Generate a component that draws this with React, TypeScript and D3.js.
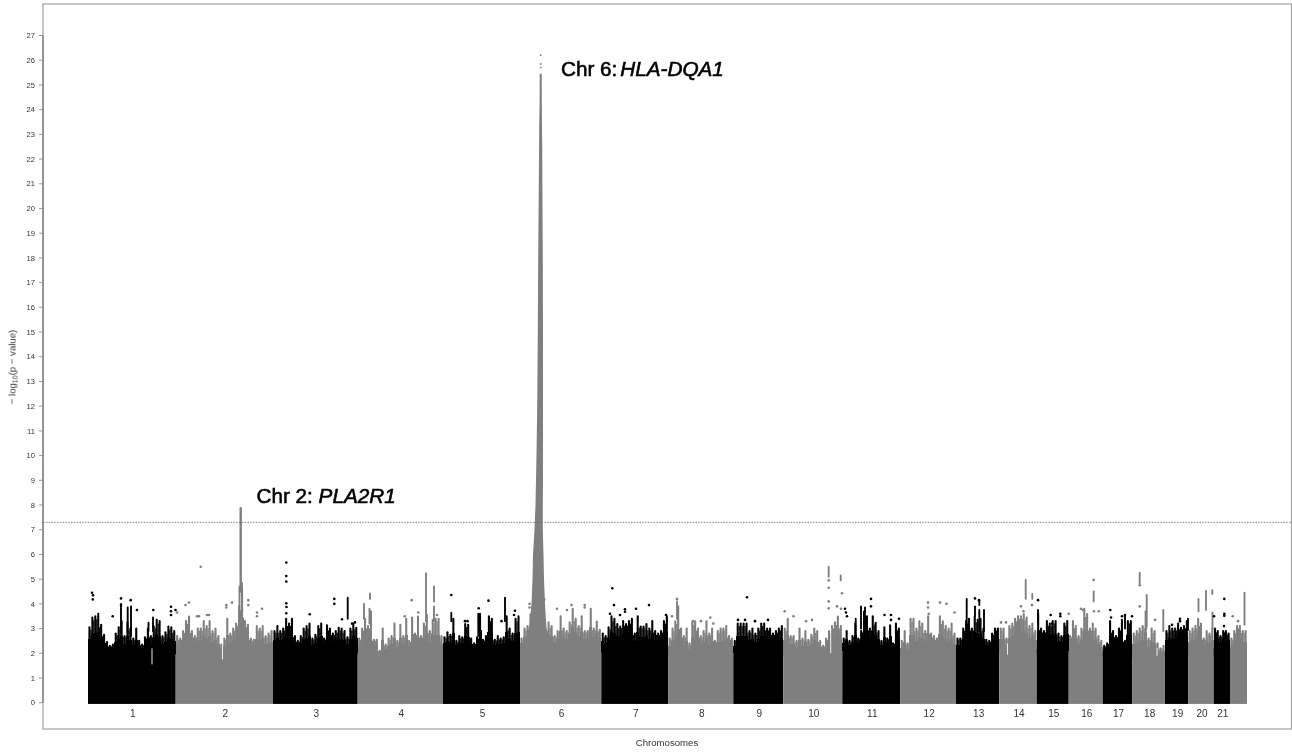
import React from "react";
import * as d3 from "d3";

// Cumulative chromosome boundaries along the genome axis (ranked-marker units)
const chrBounds = [88, 175.7, 273, 357.7, 443, 520, 601.3, 668.3, 733.3, 783.3, 842.3, 900.3, 956, 999.3, 1036.7, 1068.7, 1102.7, 1132.3, 1165, 1188.3, 1213.7, 1230, 1247];
const chrLabels = ["1","2","3","4","5","6","7","8","9","10","11","12","13","14","15","16","17","18","19","20","21",""];
const yTicks = d3.range(0, 28);

// Solid level of each chromosome, -log10(p)
const chrFloor = [2.0,1.95,2.05,1.95,2.1,2.2,2.1,1.9,2.05,1.95,2.15,1.9,2.05,2.05,2.15,1.95,2.05,1.85,2.05,1.95,2.2,1.95];

// Upper envelope of each chromosome, evenly sampled, -log10(p)
const chr1 = [3.05,3.45,3.5,3.6,3.15,2.75,2.45,2.3,2.35,2.8,3.05,3.3,2.7,3.25,3.0,2.6,3.0,2.5,2.35,2.65,3.0,2.7,3.1,3.35,3.3,2.7,2.85,3.1,3.05,2.9];
const chr2 = [2.7,2.6,2.9,3.3,3.5,2.9,2.7,3.0,3.0,3.3,3.1,3.3,2.9,3.0,2.7,2.35,2.6,3.4,2.8,3.0,3.2,3.9,4.6,3.3,3.15,2.6,2.55,3.1,3.0,3.1,2.7,2.8,2.9];
const chr3 = [2.9,3.1,2.9,3.0,3.4,3.2,3.4,2.7,2.5,2.7,3.0,3.1,3.2,2.6,2.75,3.1,3.2,2.6,3.15,3.0,2.8,2.9,3.05,3.0,2.9,2.65,3.0,3.2,3.05];
const chr4 = [2.6,3.0,3.4,3.1,3.7,2.55,2.55,2.1,3.0,2.35,2.6,2.7,3.2,2.5,3.15,2.7,3.4,2.5,3.45,2.8,3.5,2.7,3.2,3.55,2.9,3.35,3.4,3.4,2.7];
const chr5 = [2.65,2.85,2.75,3.4,2.5,2.7,2.65,3.2,3.15,2.6,2.4,2.65,3.6,2.55,2.7,3.5,3.4,2.55,2.7,2.6,2.65,3.5,3.0,2.8,3.4,3.5];
const chr6 = [2.6,3.0,3.1,3.6,3.4,3.6,3.3,3.2,3.0,3.25,3.1,2.7,2.9,3.5,3.0,2.9,3.25,3.8,3.4,3.1,3.5,2.9,2.9,3.8,3.0,3.3,2.95];
const chr7 = [2.8,2.7,3.05,3.5,3.4,3.2,3.1,3.3,3.2,3.3,3.4,2.8,3.5,3.1,3.1,3.2,3.0,3.3,2.9,2.8,2.9,3.3,3.5];
const chr8 = [2.6,3.0,3.3,3.9,3.0,2.7,3.0,2.4,3.25,3.3,3.0,2.7,2.9,3.3,2.8,3.0,2.5,2.9,3.0,3.0,3.1,2.7,2.6];
const chr9 = [2.5,3.2,3.2,3.2,3.2,2.9,3.0,2.8,3.0,3.2,3.2,3.0,3.0,2.8,2.9,3.0,3.1];
const chr10 = [3.0,3.4,2.7,2.7,2.5,3.0,2.6,2.9,2.55,2.75,3.0,2.9,2.5,2.3,2.6,2.9,3.1,3.25,3.5,3.1];
const chr11 = [2.6,2.9,2.5,2.7,3.2,2.6,2.9,3.7,3.5,3.0,3.5,3.25,2.9,2.5,3.05,2.6,3.15,2.4,3.2,3.0];
const chr12 = [2.5,2.9,2.4,3.4,3.4,3.0,3.3,3.2,2.9,3.5,2.8,2.7,2.6,3.5,3.3,3.1,3.0,3.2,2.8];
const chr13 = [2.6,2.6,3.0,3.3,3.4,3.0,3.5,3.35,3.4,3.0,2.55,2.5,2.8,3.0,3.0];
const chr14 = [3.0,3.0,2.6,3.1,3.2,3.4,3.5,3.5,3.6,3.45,3.1,3.2,2.9];
const chr15 = [3.6,3.0,2.9,3.3,3.2,3.3,3.3,2.8,2.7,3.2,3.3];
const chr16 = [2.7,3.3,3.1,2.7,3.0,3.8,3.6,3.0,3.2,3.0,2.7,2.5];
const chr17 = [2.3,2.4,3.3,2.9,2.7,3.0,3.35,2.5,3.3,3.3];
const chr18 = [2.8,2.9,3.0,3.1,3.7,2.6,3.0,2.9,2.4,2.2,2.3];
const chr19 = [2.9,3.1,3.0,3.0,3.2,3.05,3.1,3.3];
const chr20 = [2.9,3.0,3.1,3.4,3.2,2.6,2.9,2.8,3.0];
const chr21 = [3.0,2.9,2.7,2.9,2.9,2.8];
const chr22 = [2.6,2.9,3.1,3.1,2.9,2.9];
const chrTops = [chr1,chr2,chr3,chr4,chr5,chr6,chr7,chr8,chr9,chr10,chr11,chr12,chr13,chr14,chr15,chr16,chr17,chr18,chr19,chr20,chr21,chr22];

// Columns of stacked markers: [position, low, high]
const spikes: [number, number, number][] = [
  [121,2.8,4.0],[127.7,2.8,3.85],[131,2.7,3.9],[148.5,2.9,3.25],[153,2.9,3.45],
  [239.5,3.5,4.7],[240.7,4.5,7.87],[242,3.5,4.85],
  [347.7,3.4,4.25],
  [364,3.4,4.0],[369.5,3.2,3.8],[370,4.2,4.42],[426,3.3,5.25],[434,4.1,4.7],[434,3.3,3.9],
  [505,3.3,4.25],[451.3,3.3,3.65],[478.3,2.7,3.6],
  [677,3.4,4.1],
  [828.7,5.1,5.5],[840.7,4.95,5.15],
  [855.7,2.7,3.4],[861,3.0,3.9],[865,3.0,3.85],
  [966.7,3.1,4.2],[975,3.5,3.9],[979.3,3.95,4.15],[979.3,2.9,3.75],[984,2.9,3.75],
  [1025.7,4.2,4.97],[1032.3,4.2,4.4],
  [1038,3.2,3.75],[1093.7,4.1,4.5],[1125,3.0,3.55],
  [1139.7,4.83,5.26],[1146.7,3.07,4.36],[1163.3,2.9,3.75],
  [1188,2.95,3.4],[1198.5,3.7,4.2],[1206,3.75,4.55],[1212.3,4.4,4.55],[1212.5,3.0,3.65],[1244.5,3.15,4.45],
];

// Isolated markers: [position, -log10(p)]
const outliers: [number, number][] = [
  [92,4.45],[93,4.35],[92.8,4.18],[121,4.22],[130.7,4.15],[136.9,3.75],[112.7,3.5],[171,3.88],[171,3.7],[171,3.55],[153.3,3.75],[121,3.95],[175.5,3.75],[177,3.65],
  [200.7,5.5],[189,4.05],[185.5,3.95],[226.3,3.95],[226.3,3.85],[232,4.05],[248.3,4.15],[248.3,3.95],[262,3.8],[257,3.65],[257,3.5],[207,3.55],[209,3.55],[197,3.5],[199,3.5],
  [286.3,5.67],[286.3,5.13],[286.3,4.9],[286.3,4.02],[286.5,3.87],[286.3,3.62],[309.7,3.58],[334.3,4.2],[334.3,4.0],[342,3.38],[355,3.25],[352,3.2],
  [411.7,4.15],[404.7,3.5],[418.3,3.65],[437,3.55],
  [451.3,4.36],[488.5,4.13],[478.7,3.82],[515,3.72],[467.5,3.3],[465,3.3],[501.5,3.3],[479,3.42],[514,3.55],
  [544.3,4.17],[571.5,3.95],[529.5,4.0],[529.5,3.85],[584.7,3.95],[584.7,3.85],[567,3.75],[557,3.8],
  [612.3,4.63],[614,3.95],[625,3.78],[625,3.68],[636,3.8],[649,3.95],[666,3.55],[620,3.55],[610,3.6],
  [710.3,3.45],[713.3,3.2],[672,3.5],[677,4.2],[693,3.3],[701,3.3],
  [747,4.27],[738,3.35],[745,3.35],[755,3.3],[768,3.35],
  [784.7,3.7],[793.5,3.5],[806,3.3],[828.7,4.95],[828.7,4.65],[828.7,4.1],[828.7,3.82],[842,4.43],[837,3.9],[841,3.8],[812,3.35],
  [871,4.2],[871,3.9],[845,3.8],[846,3.65],[847,3.5],[884.5,3.55],[891,3.55],[891,3.35],[899,3.4],
  [928,4.05],[928,3.85],[928.7,3.6],[940,4.05],[946.5,4.0],[954.5,3.65],
  [975,4.22],[979,4.15],[1001,3.25],[1006,3.25],
  [1032,3.95],[1021,3.9],[1023.5,3.7],
  [1038,4.15],[1050.7,3.55],[1060.3,3.6],[1060.3,3.5],[1068.7,3.6],[1052,3.2],
  [1093.7,4.97],[1098.7,3.7],[1094,3.7],[1081,3.8],[1083,3.75],
  [1110.3,3.75],[1111,3.45],[1125,3.55],[1132,3.5],[1122,3.5],
  [1139.7,4.75],[1139.7,3.9],[1155,3.35],[1146,3.0],
  [1180,3.4],[1180,3.3],[1172,3.15],
  [1224.3,4.2],[1224.3,3.6],[1224.3,3.52],[1214,3.5],[1224,3.1],[1232.7,3.5],[1238,3.3],
];

// Thin blank streaks in the solid band: [position, low, high]
const gaps: [number, number, number][] = [
  [152,1.55,2.2],[222.5,1.75,2.35],[830.7,2.0,3.0],[1007.5,1.95,2.4],[1157,1.9,2.2],
];

// The chromosome 6 peak: [-log10(p), left edge, right edge]
const peakProfile: [number, number, number][] = [
  [2.2,522,551],[2.5,526,549],[3,529,546.5],[4,531.5,545],[5,532.5,544],[6,533,543.5],[7,534.5,542.8],[8,535.5,542.8],[9,536,543],[10,536.5,543],[12,537.2,543],[15,537.8,543],[18,538.2,542.8],[20,538.6,542.5],[22,539,542.3],[23.3,539.2,542],[24.3,539.6,541.8],[25.45,539.7,541.7],
];
const peakDots: [number, number][] = [[540.7,26.2],[540.7,25.85],[540.7,25.7],[540.7,24.06]];

const annotations = [
  { chr: "Chr 2: ", gene: "PLA2R1", pos: 256.5, v: 8.08 },
  { chr: "Chr 6:", gene: "HLA-DQA1", pos: 561, v: 25.36 },
];

const BLACK = "#000000";
const GREY = "#7f7f7f";

export default function App() {
  const x = d3.scaleLinear().domain([88, 1247]).range([88, 1247]);
  const y = d3.scaleLinear().domain([0, 27]).range([702.7, 35.5]);
  const colorOf = (pos: number) => {
    const i = d3.bisectRight(chrBounds, pos) - 1;
    return Math.max(0, i) % 2 === 0 ? BLACK : GREY;
  };
  const area = d3.area<[number, number, number]>()
    .x0((d) => x(d[1])).x1((d) => x(d[2])).y((d) => y(d[0]));

  const font = "'Liberation Sans', Arial, sans-serif";
  return (
    <svg width={1292} height={755} style={{ position: "absolute", left: 0, top: 0, background: "#fff" }} fontFamily={font}>
      <defs>
        <filter id="soft" x="0" y="0" width="1292" height="755" filterUnits="userSpaceOnUse">
          <feGaussianBlur stdDeviation="0.4" />
        </filter>
      </defs>
      <g filter="url(#soft)">
        <rect x={43} y={4} width={1248.5} height={725} fill="none" stroke="#a0a0a0" strokeWidth={1.2} />
        <line x1={43} x2={43} y1={y(27)} y2={y(0)} stroke="#808080" strokeWidth={1.4} />
        {yTicks.map((t) => (
          <g key={t}>
            <line x1={39} x2={43} y1={y(t)} y2={y(t)} stroke="#808080" strokeWidth={0.8} />
            <text x={35} y={y(t) + 2.7} fontSize={7.6} textAnchor="end" fill="#333">{t}</text>
          </g>
        ))}
        {chrTops.map((tops, c) => {
          const x0 = chrBounds[c], x1 = chrBounds[c + 1];
          const color = c % 2 === 0 ? BLACK : GREY;
          const step = (x1 - x0) / tops.length;
          const floor = chrFloor[c];
          return (
            <g key={c}>
              <rect x={x(x0)} width={x(x1) - x(x0)} y={y(floor)} height={y(-0.05) - y(floor)} fill={color} />
              {tops.map((v, i) => {
                const cx = x(x0 + (i + 0.5) * step);
                const shoulder = floor + (v - floor) * 0.55;
                const next = i + 1 < tops.length ? tops[i + 1] : v;
                const between = floor + (Math.min(v, next) - floor) * 0.92;
                return (
                  <g key={i}>
                    <rect x={x(x0 + i * step)} width={x(x0 + (i + 1) * step) - x(x0 + i * step)} y={y(shoulder)} height={y(floor) - y(shoulder) + 1} fill={color} shapeRendering="crispEdges" />
                    <line x1={cx} x2={cx} y1={y(floor)} y2={y(v)} stroke={color} strokeWidth={2.1} strokeLinecap="round" strokeDasharray={v > 3 ? "7 0.5 3 0.6 2 0.6" : undefined} />
                    {i + 1 < tops.length && (
                      <line x1={cx + step / 2} x2={cx + step / 2} y1={y(floor)} y2={y(between)} stroke={color} strokeWidth={1.2} />
                    )}
                  </g>
                );
              })}
            </g>
          );
        })}
        {gaps.map((g, i) => (
          <line key={i} x1={x(g[0])} x2={x(g[0])} y1={y(g[1])} y2={y(g[2])} stroke="#fff" strokeWidth={0.9} />
        ))}
        {spikes.map((s, i) => (
          <line key={i} x1={x(s[0])} x2={x(s[0])} y1={y(s[1])} y2={y(s[2])} stroke={colorOf(s[0])}
            strokeWidth={s[0] === 240.7 ? 2.4 : 1.9} strokeLinecap="round" strokeDasharray={s[0] === 240.7 ? "2.4 0.4" : "1.8 0.4"} />
        ))}
        {outliers.map((o, i) => (
          <circle key={i} cx={x(o[0])} cy={y(o[1])} r={1.3} fill={colorOf(o[0])} />
        ))}
        <path d={area(peakProfile) ?? ""} fill={GREY} />
        {peakDots.map((d, i) => (
          <circle key={i} cx={x(d[0])} cy={y(d[1])} r={0.9} fill={GREY} />
        ))}
        <line x1={43} x2={1291.5} y1={y(7.3)} y2={y(7.3)} stroke="#666" strokeWidth={0.8} strokeDasharray="1.6 1.2" />
        {chrLabels.map((l, i) => l && (
          <text key={i} x={x((chrBounds[i] + chrBounds[i + 1]) / 2) + 1} y={716.5} fontSize={10} textAnchor="middle" fill="#333">{l}</text>
        ))}
        <text x={667} y={745.5} fontSize={9.6} textAnchor="middle" fill="#333">Chromosomes</text>
        <text transform="translate(15.5,367) rotate(-90)" fontSize={9.6} textAnchor="middle" fill="#333">
          − log<tspan fontSize={7} dy={1.8}>10</tspan><tspan dy={-1.8}>(p − value)</tspan>
        </text>
        {annotations.map((a) => (
          <text key={a.gene} x={x(a.pos)} y={y(a.v)} fontSize={20.7} fill="#000" stroke="#000" strokeWidth={0.6}>
            {a.chr}<tspan fontStyle="italic" dx={a.gene === "HLA-DQA1" ? 3 : 0}>{a.gene}</tspan>
          </text>
        ))}
      </g>
    </svg>
  );
}
